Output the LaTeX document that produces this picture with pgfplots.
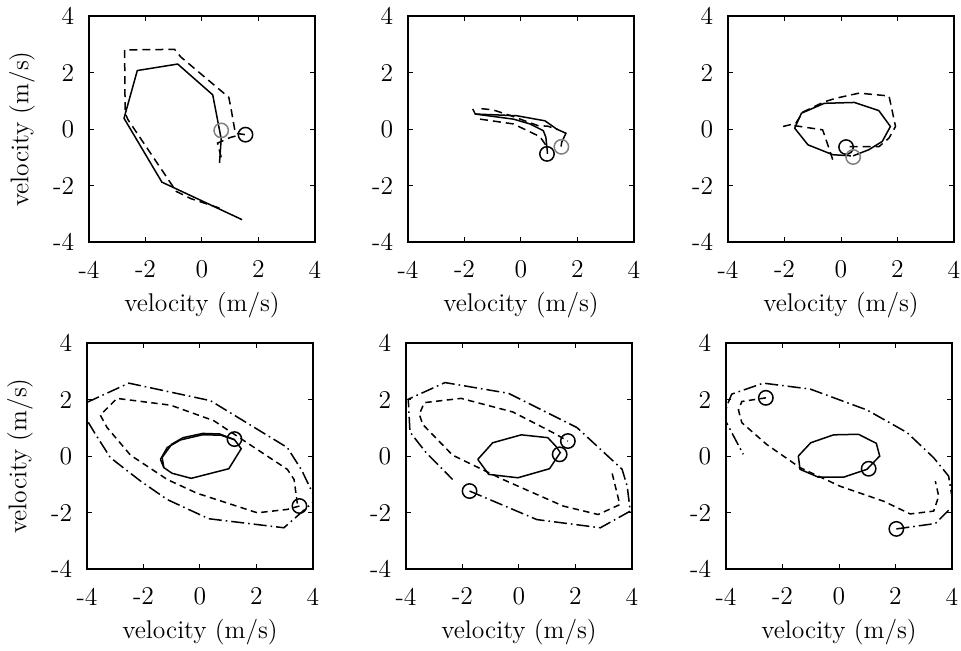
\documentclass[border=0pt]{standalone}
\usepackage{pgfplots}
\pgfplotsset{compat=1.18}
\pgfplotsset{
  panel/.style={
    scale only axis, width=113pt, height=113pt,
    xmin=-4, xmax=4, ymin=-4, ymax=4,
    xtick={-4,-2,0,2,4}, ytick={-4,-2,0,2,4},
    xticklabels={-4,-2,0,2,4}, yticklabels={-4,-2,0,2,4},
    tick align=inside, major tick length=2.5pt,
    xtick pos=both, ytick pos=both,
    axis line style={line width=0.8pt},
    every tick/.style={black, line width=0.5pt},
    xlabel={velocity (m/s)},
    xlabel style={at={(rel axis cs:0.5,0)}, anchor=center, yshift=-31.5pt},
    xticklabel style={yshift=-5pt},
    yticklabel style={xshift=-3pt},
    anchor=south west,
  },
  ylab/.style={ylabel={velocity (m/s)},
    ylabel style={at={(rel axis cs:0,0.5)}, anchor=center, rotate=0, yshift=33.5pt}},
  sol/.style={black, line width=0.75pt, mark=none},
  dsh/.style={black, line width=0.75pt, mark=none, dash pattern=on 4pt off 2.5pt},
  sdash/.style={black, line width=0.75pt, mark=none, dash pattern=on 3.2pt off 2.2pt},
  ddot/.style={black, line width=0.75pt, mark=none, dash pattern=on 6.5pt off 2pt on 0.8pt off 2pt},
  circ/.style={only marks, mark=o, mark size=3.6pt, mark options={line width=0.75pt, solid}},
}
\begin{document}
\fontsize{12.8}{15}\selectfont
\begin{tikzpicture}
% ---------- Panel 1 ----------
\begin{axis}[panel, ylab, at={(44.5pt,204pt)}]
\addplot[sol] coordinates {(1.42,-3.21) (-1.42,-1.88) (-2.76,0.38) (-2.29,2.07) (-0.86,2.30) (0.38,1.21) (0.68,-0.35) (0.62,-1.2)};
\addplot[dsh] coordinates {(0.62,-2.80) (-0.38,-2.47) (-0.91,-2.21) (-2.62,0.33) (-2.72,0.56) (-2.74,2.80) (-0.97,2.82) (-0.75,2.55) (0.95,1.12) (1.05,0.6) (1.18,-0.15) (1.54,-0.2)};
\addplot[dsh] coordinates {(0.68,-1.0) (0.55,-0.5) (1.0,-0.3) (1.3,-0.22)};
\addplot[circ, black] coordinates {(1.54,-0.2)};
\addplot[circ, gray] coordinates {(0.68,-0.05)};
\end{axis}
% ---------- Panel 2 ----------
\begin{axis}[panel, at={(204pt,204pt)}]
\addplot[sol] coordinates {(-1.71,0.71) (-1.62,0.53) (-0.15,0.47) (0.85,0.29) (1.26,0.0) (1.59,-0.15) (1.44,-0.47) (1.42,-0.62)};
\addplot[sol] coordinates {(-1.62,0.53) (-0.27,0.35) (0.32,0.18) (0.79,-0.06) (0.88,-0.29) (0.93,-0.77) (0.93,-0.88)};
\addplot[dsh] coordinates {(-1.40,0.72) (-1.0,0.68) (-0.3,0.45) (0.6,0.12) (0.95,0.1) (1.3,-0.02)};
\addplot[dsh] coordinates {(-1.45,0.35) (-0.27,0.18) (0.67,-0.27) (0.9,-0.6)};
\addplot[circ, black] coordinates {(0.92,-0.88)};
\addplot[circ, gray] coordinates {(1.43,-0.63)};
\end{axis}
% ---------- Panel 3 ----------
\begin{axis}[panel, at={(364pt,204pt)}]
\addplot[sol] coordinates {(0.43,-0.95) (0.99,-0.73) (1.46,-0.44) (1.75,0.09) (1.34,0.65) (0.47,0.94) (-0.59,0.91) (-1.40,0.56) (-1.64,0.03) (-1.17,-0.56) (-0.29,-0.91) (0.35,-0.95)};
\addplot[dsh] coordinates {(-2.05,0.09) (-1.6,0.2) (-1.35,0.6) (-0.6,0.96) (-0.18,1.09) (0.64,1.27) (1.70,1.17) (1.93,0.09) (1.70,-0.32) (1.35,-0.62) (0.3,-0.62)};
\addplot[dsh] coordinates {(-1.65,0.12) (-0.65,-0.03) (-0.41,-0.73) (-0.29,-1.10)};
\addplot[circ, black] coordinates {(0.18,-0.64)};
\addplot[circ, gray] coordinates {(0.43,-0.99)};
\end{axis}
% ---------- Panel 4 ----------
\begin{axis}[panel, ylab, at={(43.5pt,40.5pt)}]
\addplot[sol] coordinates {(-1.40,-0.12) (-1.16,0.30) (-0.69,0.57) (0.08,0.75) (0.73,0.74) (1.22,0.58) (1.46,0.26) (1.02,-0.45) (-0.31,-0.79) (-0.99,-0.61) (-1.28,-0.41) (-1.40,-0.12)};
\addplot[sol] coordinates {(-1.28,-0.41) (-1.34,-0.05) (-1.0,0.42) (-0.6,0.65) (0.1,0.8) (0.7,0.78) (1.22,0.58)};
\addplot[sdash] coordinates {(3.52,-1.77) (3.09,-1.89) (2.03,-2.01) (-0.10,-1.32) (-1.16,-0.83) (-2.46,0.03) (-3.29,1.01) (-3.53,1.45) (-2.94,2.04) (-1.04,1.80) (0.49,1.25) (1.56,0.54) (3.09,-0.47) (3.33,-0.83) (3.45,-1.71)};
\addplot[ddot] coordinates {(-4.0,1.90) (-2.52,2.58) (0.37,1.96) (3.09,0.30) (3.6,-0.5) (4.1,-1.55) (2.97,-2.54) (0.31,-2.22) (-1.16,-1.54) (-2.1,-0.89) (-3.17,-0.06) (-3.7,0.77) (-4.05,1.35)};
\addplot[circ, black] coordinates {(1.22,0.60) (3.52,-1.77)};
\end{axis}
% ---------- Panel 5 ----------
\begin{axis}[panel, at={(203pt,40.5pt)}]
\addplot[sol] coordinates {(-1.46,-0.12) (-0.93,0.47) (0.08,0.75) (1.02,0.65) (1.32,0.33) (1.46,0.12) (1.08,-0.45) (-0.04,-0.77) (-1.07,-0.65) (-1.46,-0.12)};
\addplot[sdash] coordinates {(3.30,-0.62) (3.57,-1.72) (2.80,-2.07) (1.56,-1.77) (-0.57,-0.83) (-2.35,0.03) (-3.41,1.12) (-3.53,1.48) (-3.35,1.89) (-2.05,2.04) (-0.22,1.56) (1.20,0.83) (1.73,0.53)};
\addplot[ddot] coordinates {(-1.75,-1.24) (0.63,-2.25) (2.88,-2.54) (3.94,-1.95) (3.83,-1.07) (3.65,-0.47) (2.05,1.01) (-0.37,2.22) (-2.62,2.60) (-3.92,2.01) (-3.86,0.85) (-3.29,0.12) (-2.35,-0.83)};
\addplot[circ, black] coordinates {(1.73,0.53) (1.44,0.06) (-1.75,-1.24)};
\end{axis}
% ---------- Panel 6 ----------
\begin{axis}[panel, at={(363pt,40.5pt)}]
\addplot[sol] coordinates {(-1.44,0.0) (-1.38,-0.47) (-0.73,-0.75) (0.16,-0.75) (0.99,-0.47) (1.44,0.0) (1.32,0.45) (0.69,0.77) (-0.19,0.75) (-1.0,0.47) (-1.44,0.0)};
\addplot[sdash] coordinates {(-2.59,2.06) (-3.44,1.93) (-3.56,1.63) (-3.44,1.18) (-2.56,0.41) (-1.38,-0.41) (0.04,-1.07) (1.58,-1.60) (2.52,-2.05) (3.35,-1.95) (3.53,-1.42) (3.41,-0.89)};
\addplot[ddot] coordinates {(2.03,-2.58) (3.41,-2.39) (4.05,-1.75) (3.88,-0.71) (3.35,-0.06) (2.41,0.83) (0.99,1.63) (-1.02,2.37) (-2.68,2.58) (-3.80,2.19) (-3.98,1.75) (-4.02,1.25) (-3.39,0.06)};
\addplot[circ, black] coordinates {(-2.59,2.06) (1.05,-0.45) (2.03,-2.58)};
\end{axis}
\pgfresetboundingbox
\path[use as bounding box] (0,0) rectangle (480.5pt,325pt);
\end{tikzpicture}
\end{document}
